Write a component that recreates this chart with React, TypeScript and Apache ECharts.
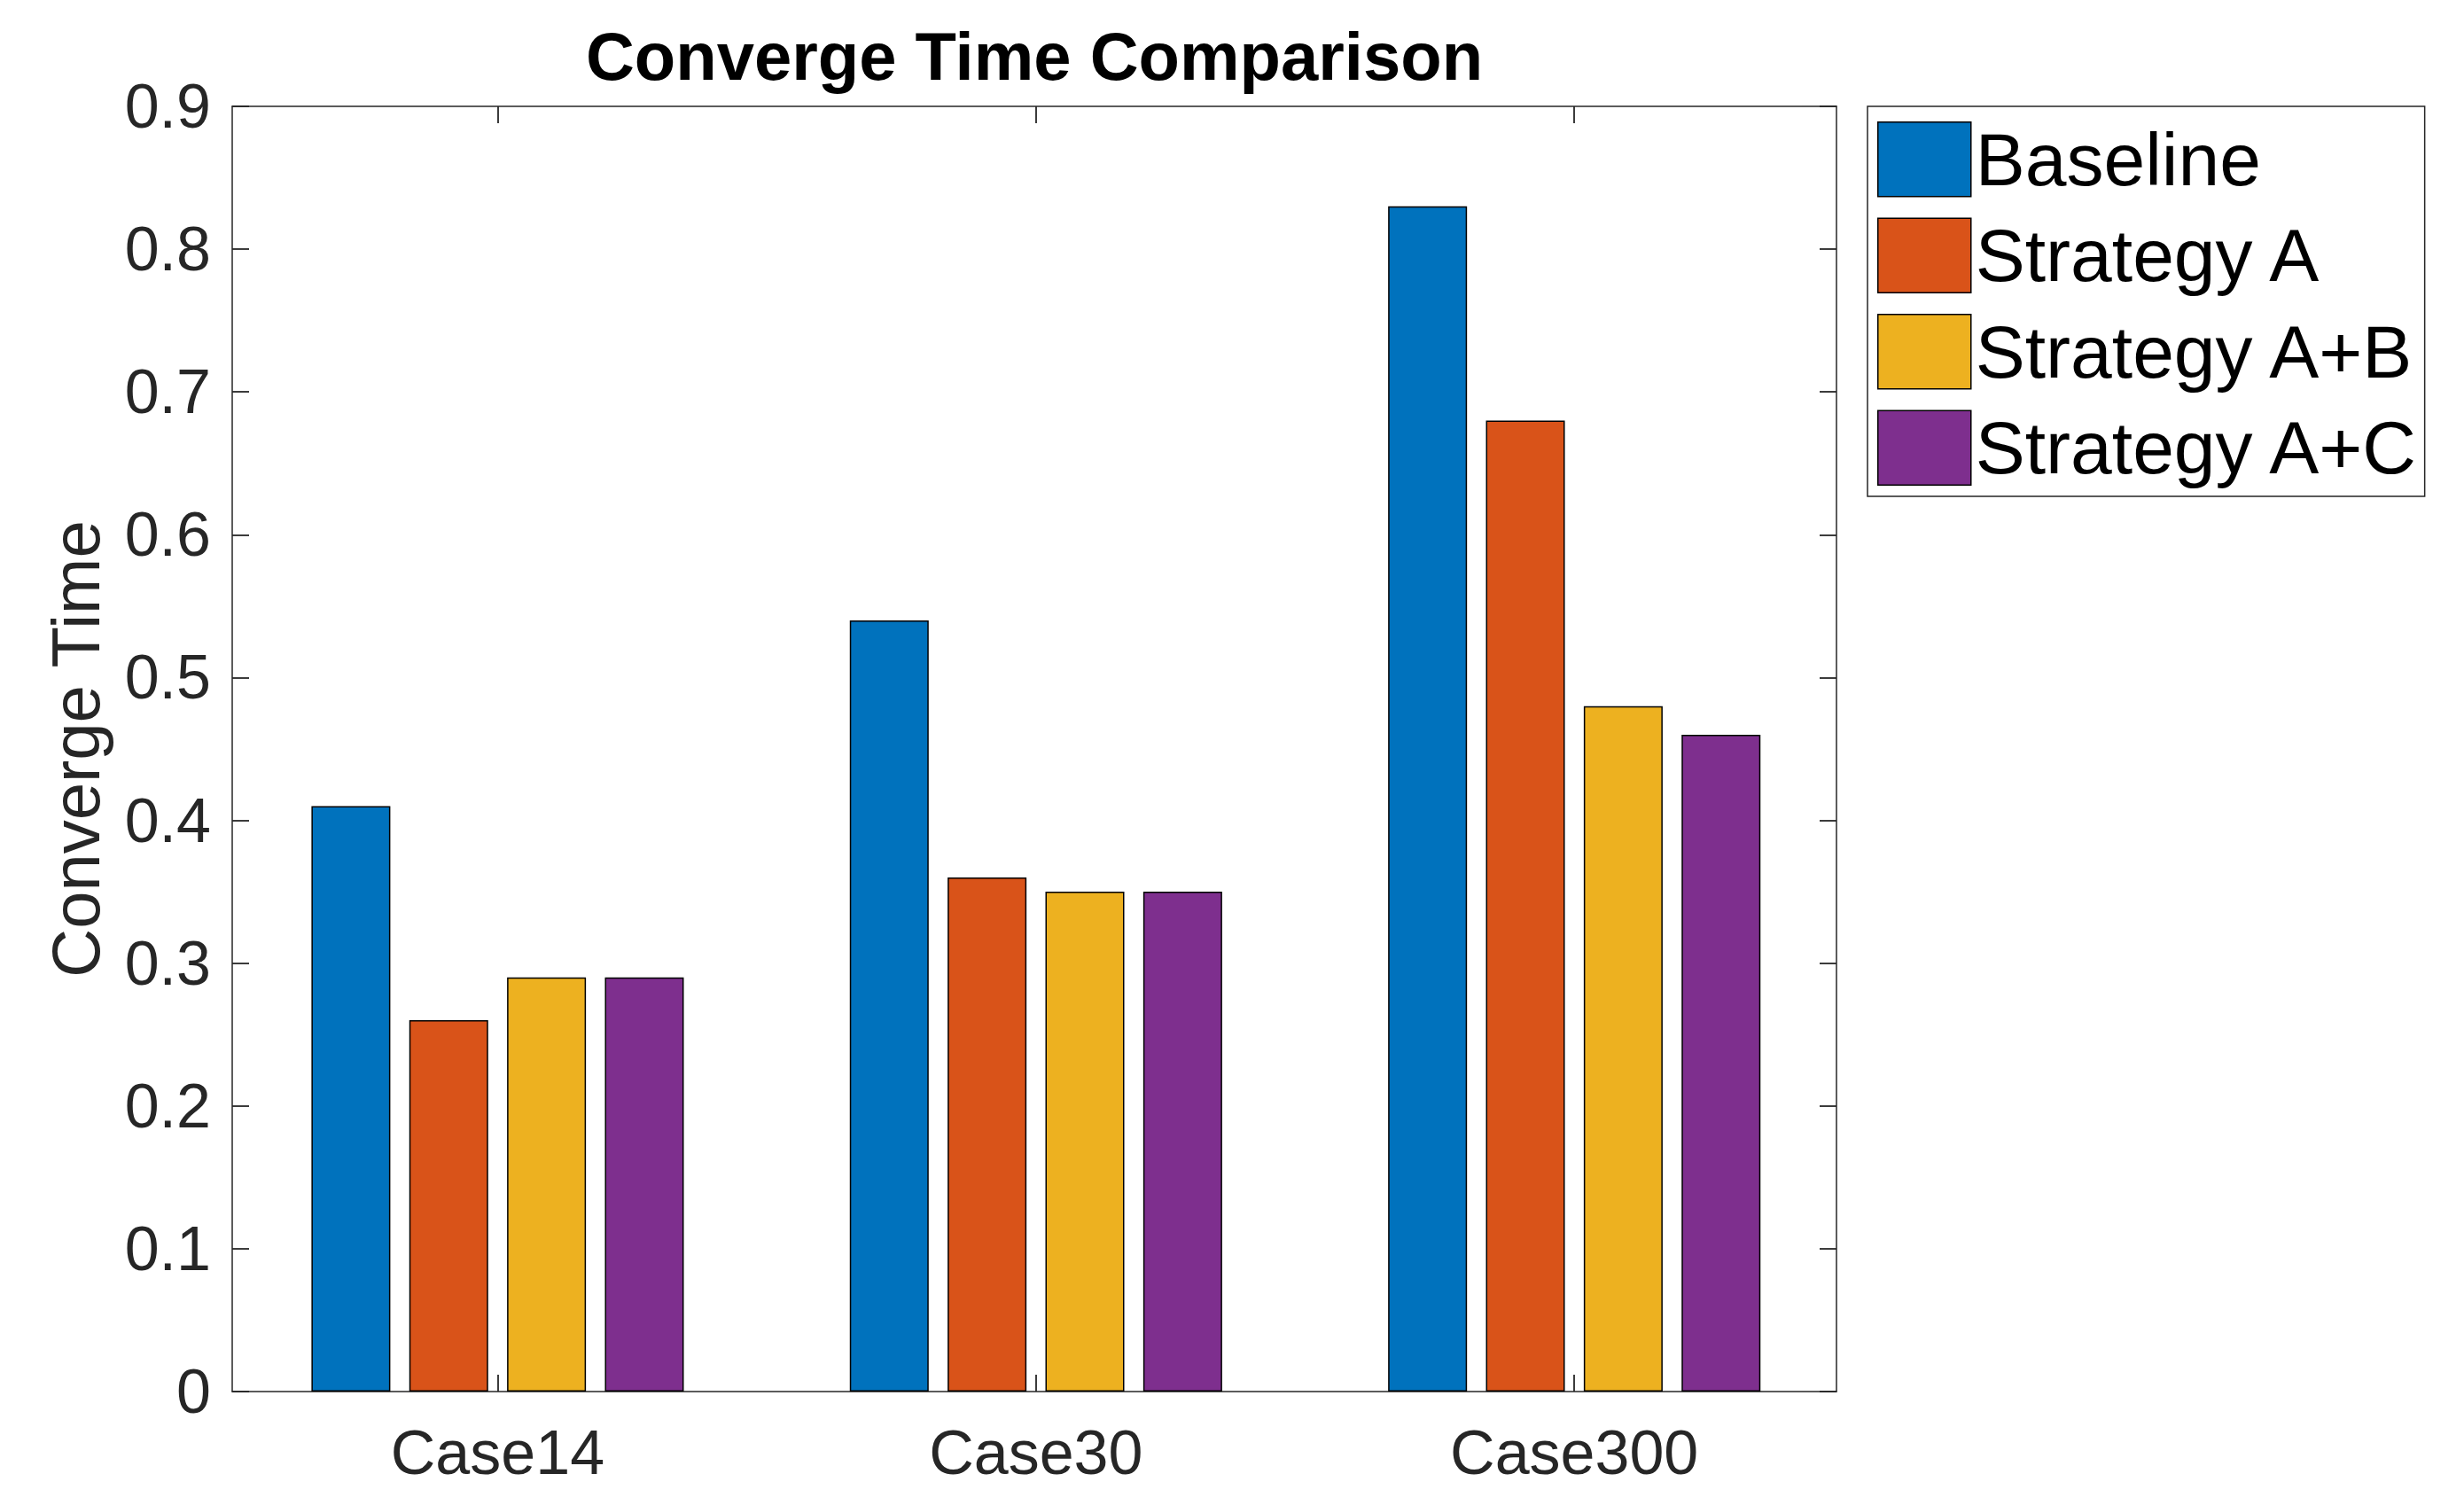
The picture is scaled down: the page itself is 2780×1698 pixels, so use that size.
import React, { useEffect, useRef } from "react";
import * as echarts from "echarts";

const categories = ["Case14", "Case30", "Case300"];
const categoryPositions = [1, 2, 3];
const seriesNames = ["Baseline", "Strategy A", "Strategy A+B", "Strategy A+C"];
const baseline = [0.41, 0.54, 0.83];
const strategyA = [0.26, 0.36, 0.68];
const strategyAB = [0.29, 0.35, 0.48];
const strategyAC = [0.29, 0.35, 0.46];
const yTickLabels = ["0", "0.1", "0.2", "0.3", "0.4", "0.5", "0.6", "0.7", "0.8", "0.9"];
const colors = ["#0072BD", "#D95319", "#EDB120", "#7E2F8E"];

const FONT = "Liberation Sans";
const AXIS_COLOR = "#262626";

export default function App() {
  const ref = useRef<HTMLDivElement>(null);

  useEffect(() => {
    document.body.style.margin = "0";
    if (!ref.current) return;
    const chart = echarts.init(ref.current, null, { renderer: "svg" });
    const values = [baseline, strategyA, strategyAB, strategyAC];

    const axisLine = { show: true, onZero: false, lineStyle: { color: AXIS_COLOR, width: 1.5 } };
    const tickStyle = { color: AXIS_COLOR, width: 1.8 };
    const xTick = {
      show: true,
      inside: true,
      length: 19,
      customValues: categoryPositions,
      lineStyle: tickStyle,
    };

    chart.setOption({
      animation: false,
      backgroundColor: "#ffffff",
      textStyle: { fontFamily: FONT },
      title: {
        text: "Converge Time Comparison",
        left: 1162,
        textAlign: "center",
        top: 20,
        textStyle: { fontFamily: FONT, fontSize: 76, fontWeight: "bold", color: "#000000" },
      },
      legend: {
        orient: "vertical",
        left: 2107,
        top: 120,
        icon: "rect",
        itemWidth: 105,
        itemHeight: 84,
        itemGap: 23,
        padding: [17, 5, 12, 11],
        borderColor: AXIS_COLOR,
        borderWidth: 1.5,
        backgroundColor: "#ffffff",
        itemStyle: { borderColor: "#000000", borderWidth: 1.5 },
        textStyle: { fontFamily: FONT, fontSize: 84, color: "#000000" },
        data: seriesNames,
      },
      grid: { left: 262, right: 708, top: 120, bottom: 128, containLabel: false },
      xAxis: [
        {
          type: "value",
          min: 0.507,
          max: 3.487,
          position: "bottom",
          axisLine,
          axisTick: xTick,
          axisLabel: {
            fontFamily: FONT,
            fontSize: 70,
            color: AXIS_COLOR,
            margin: 34,
            customValues: categoryPositions,
            formatter: (v: number) => categories[Math.round(v) - 1] ?? "",
          },
          splitLine: { show: false },
        },
        {
          type: "value",
          min: 0.507,
          max: 3.487,
          position: "top",
          axisLine,
          axisTick: xTick,
          axisLabel: { show: false },
          splitLine: { show: false },
        },
      ],
      yAxis: [
        {
          type: "value",
          min: 0,
          max: 0.9,
          interval: 0.1,
          position: "left",
          name: "Converge Time",
          nameLocation: "middle",
          nameGap: 139,
          nameTextStyle: { fontFamily: FONT, fontSize: 76, color: AXIS_COLOR },
          axisLine,
          axisTick: { show: true, inside: true, length: 19, lineStyle: tickStyle },
          axisLabel: {
            fontFamily: FONT,
            fontSize: 70,
            color: AXIS_COLOR,
            margin: 24,
            formatter: (v: number) => yTickLabels[Math.round(v * 10)] ?? String(v),
          },
          splitLine: { show: false },
        },
        {
          type: "value",
          min: 0,
          max: 0.9,
          interval: 0.1,
          position: "right",
          axisLine,
          axisTick: { show: true, inside: true, length: 19, lineStyle: tickStyle },
          axisLabel: { show: false },
          splitLine: { show: false },
        },
      ],
      series: seriesNames.map((name, i) => ({
        name,
        type: "bar",
        xAxisIndex: 0,
        yAxisIndex: 0,
        data: values[i].map((v, j) => [categoryPositions[j], v]),
        barWidth: 89,
        barGap: "24%",
        itemStyle: { color: colors[i], borderColor: "#000000", borderWidth: 1.5 },
      })),
    });

    return () => chart.dispose();
  }, []);

  return <div ref={ref} style={{ width: 2780, height: 1698 }} />;
}
